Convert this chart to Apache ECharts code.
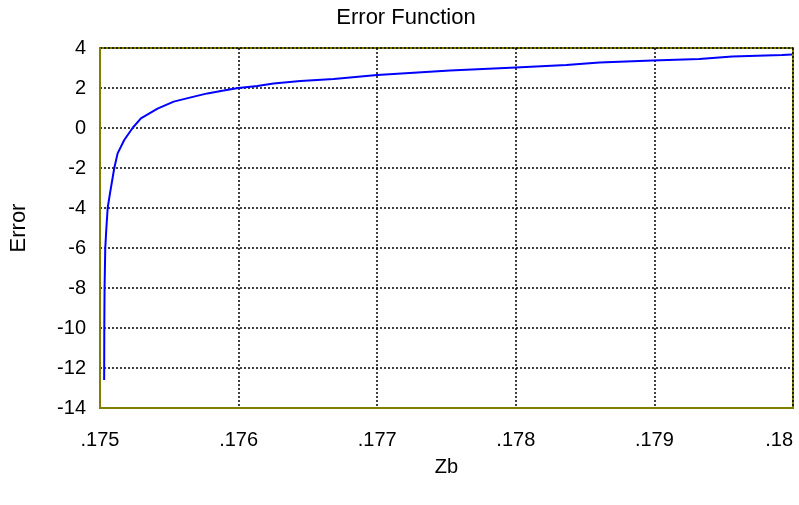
<!DOCTYPE html>
<html><head><meta charset="utf-8">
<script src="https://cdn.jsdelivr.net/npm/echarts@6/dist/echarts.min.js"></script>
<style>html,body{margin:0;padding:0;background:#fff}#c{width:799px;height:505px}</style>
</head><body><div id="c"></div>
<script>
const titleText = 'Error Function';
const xName = 'Zb';
const yName = 'Error';
const zb = [0.175030,0.175031,0.175033,0.175038,0.175046,0.1750554,0.175072,0.175103,0.175127,0.175175,0.175235,0.175295,0.175415,0.175532,0.175655,0.175775,0.175892,0.175998,0.176135,0.176252,0.176446,0.176686,0.177,0.177525,0.178,0.178364,0.178604,0.178986,0.179324,0.179561,0.179921,0.179993];
const err = [-12.6,-10.0,-8.0,-6.0,-5.0,-4.0,-3.27,-2.0,-1.27,-0.6,0.0,0.48,0.97,1.32,1.53,1.73,1.87,2.0,2.1,2.23,2.35,2.45,2.65,2.87,3.03,3.15,3.28,3.37,3.45,3.57,3.65,3.67];
const data = zb.map((z,i)=>[z,err[i]]);
const font = 'Liberation Sans, Arial, sans-serif';
const chart = echarts.init(document.getElementById('c'));
chart.setOption({
  animation:false,
  backgroundColor:'#fff',
  title:{text:titleText,left:401,top:2,textAlign:'center',textStyle:{fontFamily:font,fontSize:22,fontWeight:'normal',color:'#000'}},
  grid:{left:100,top:48,width:693,height:360,containLabel:false,outerBoundsMode:'none',show:true,borderColor:'#808000',borderWidth:2,backgroundColor:'#fff'},
  xAxis:{type:'value',min:0.175,max:0.18,interval:0.001,
    name:xName,nameLocation:'middle',nameGap:49,nameTextStyle:{fontFamily:font,fontSize:20,color:'#000'},
    axisLine:{show:true,onZero:false,lineStyle:{color:'#808000',width:2}},axisTick:{show:false},
    axisLabel:{margin:22,fontFamily:font,fontSize:20,color:'#000',alignMaxLabel:'right',formatter:v=>('' + parseFloat(v.toFixed(4))).replace(/^0/,'')},
    splitLine:{show:true,lineStyle:{color:'#000',type:[2,2],width:1.5}}},
  yAxis:{type:'value',min:-14,max:4,interval:2,
    name:yName,nameLocation:'middle',nameGap:70,nameTextStyle:{fontFamily:font,fontSize:22,color:'#000'},
    axisLine:{show:true,onZero:false,lineStyle:{color:'#808000',width:2}},axisTick:{show:false},
    axisLabel:{margin:14,fontFamily:font,fontSize:20,color:'#000'},
    splitLine:{show:true,lineStyle:{color:'#000',type:[2,2],width:1.5}}},
  series:[{type:'line',data:data,showSymbol:false,lineStyle:{color:'#0000ff',width:2},itemStyle:{color:'#0000ff'},z:5}]
});
</script></body></html>
